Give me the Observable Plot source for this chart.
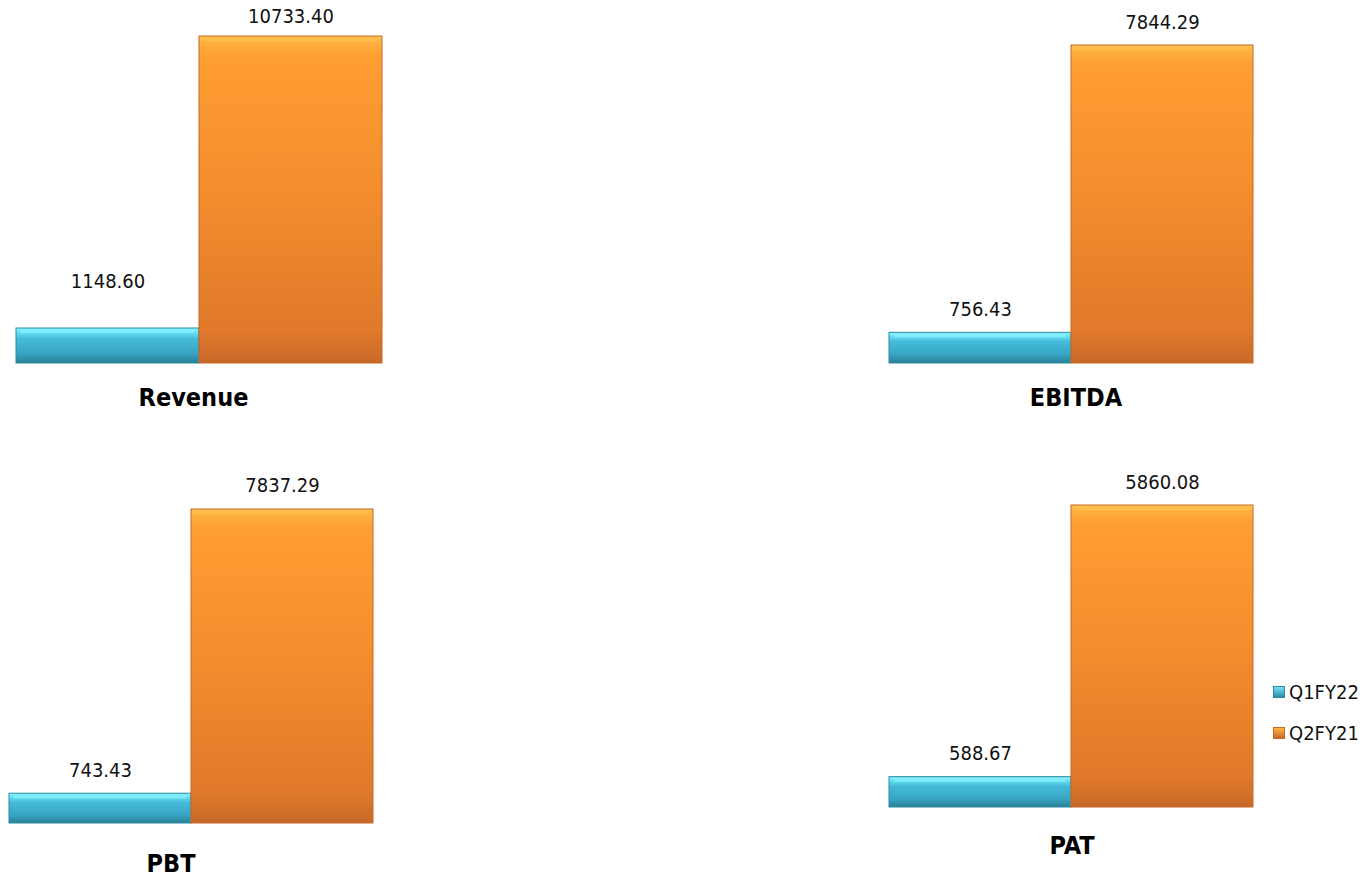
<!DOCTYPE html>
<html>
<head>
<meta charset="utf-8">
<script src="https://cdn.jsdelivr.net/npm/d3@7"></script>
<script src="https://cdn.jsdelivr.net/npm/@observablehq/plot@0.6"></script>
<style>
  html, body { margin: 0; padding: 0; background: #ffffff; }
  #root { position: relative; width: 1369px; height: 880px; overflow: hidden;
          font-family: "DejaVu Sans Condensed", "DejaVu Sans", sans-serif; font-stretch: condensed; }
  .panel { position: absolute; }
  .panel svg { overflow: visible; }
  .legend { position: absolute; left: 1273px; top: 676px; font-size: 20px; color: #111; }
  .legend .row { display: flex; align-items: center; height: 32px; margin-bottom: 9px; }
  .legend .sw { width: 12px; height: 12px; margin-right: 4px; box-sizing: border-box; }
</style>
</head>
<body>
<div id="root">
  <svg width="0" height="0" style="position:absolute">
    <defs>
      <linearGradient id="gCyan" x1="0" y1="0" x2="0" y2="1">
        <stop offset="0" stop-color="#8AF4FF"/>
        <stop offset="0.12" stop-color="#6BE0F5"/>
        <stop offset="0.3" stop-color="#45BCDA"/>
        <stop offset="0.7" stop-color="#38A7C5"/>
        <stop offset="1" stop-color="#2B8098"/>
      </linearGradient>
      <linearGradient id="gOrange" x1="0" y1="0" x2="0" y2="1">
        <stop offset="0" stop-color="#FFC552"/>
        <stop offset="0.02" stop-color="#FFB040"/>
        <stop offset="0.06" stop-color="#FF9E33"/>
        <stop offset="0.45" stop-color="#F48E2E"/>
        <stop offset="0.9" stop-color="#E0792A"/>
        <stop offset="1" stop-color="#C8682A"/>
      </linearGradient>
    </defs>
  </svg>
</div>
<script>
// ---- data ----
const categories = ["Revenue", "EBITDA", "PBT", "PAT"];
const series = ["Q1FY22", "Q2FY21"];
const q1fy22 = [1148.60, 756.43, 743.43, 588.67];
const q2fy21 = [10733.40, 7844.29, 7837.29, 5860.08];

const fills = {Q1FY22: "url(#gCyan)", Q2FY21: "url(#gOrange)"};
const strokes = {Q1FY22: "#2C8AA3", Q2FY21: "#C56A24"};
const highlights = {Q1FY22: "#86F2FF", Q2FY21: "#FFC24E"};
const swatch = {Q1FY22: "linear-gradient(#6FE3F7, #2E8CA6)", Q2FY21: "linear-gradient(#FFB640, #C8682A)"};

// ---- layout (positions only) ----
const layout = [
  {left: 0,   top: 0,   width: 420, height: 430, ml: 16, mr: 38, mt: 36, mb: 67, tdx: -6, tdy: 42, ldy: [-47, -20]},
  {left: 860, top: 0,   width: 420, height: 430, ml: 28, mr: 27, mt: 45, mb: 67, tdx: 5,  tdy: 42, ldy: [-23, -23]},
  {left: 0,   top: 440, width: 420, height: 440, ml: 8,  mr: 47, mt: 69, mb: 57, tdx: -20, tdy: 48, ldy: [-23, -24]},
  {left: 860, top: 440, width: 420, height: 440, ml: 28, mr: 27, mt: 65, mb: 73, tdx: 1,  tdy: 46, ldy: [-24, -23]}
];

const root = document.getElementById("root");

categories.forEach((cat, i) => {
  const L = layout[i];
  const rows = series.map((s, j) => ({series: s, value: j === 0 ? q1fy22[i] : q2fy21[i]}));
  const maxV = d3.max(rows, d => d.value);
  const chart = Plot.plot({
    width: L.width,
    height: L.height,
    marginLeft: L.ml, marginRight: L.mr, marginTop: L.mt, marginBottom: L.mb,
    style: {background: "transparent", fontFamily: "\"DejaVu Sans Condensed\", \"DejaVu Sans\", sans-serif", overflow: "visible"},
    x: {domain: series, padding: 0, axis: null},
    y: {domain: [0, maxV], axis: null},
    marks: [
      Plot.barY(rows, {
        x: "series", y: "value",
        fill: d => fills[d.series],
        stroke: d => strokes[d.series],
        strokeWidth: 1,
        style: {filter: "drop-shadow(1px 2px 2px rgba(0,0,0,0.35))"}
      }),
      Plot.tickY(rows, {
        x: "series", y: "value", dy: 3, inset: 5,
        stroke: d => highlights[d.series], strokeWidth: 3, strokeOpacity: 0.75
      }),
      Plot.tickY(rows, {
        x: "series", y: 0, dy: -2, inset: 4,
        stroke: d => strokes[d.series], strokeWidth: 3, strokeOpacity: 0.5
      }),
      ...rows.map((r, j) => Plot.text([r], {
        x: "series", y: "value", dy: L.ldy[j],
        text: d => d.value.toFixed(2),
        fontSize: 20, fill: "#111"
      })),
      Plot.text([cat], {
        frameAnchor: "bottom", dx: L.tdx, dy: L.tdy,
        text: d => d, fontSize: 25, fontWeight: "bold", fill: "#000"
      })
    ]
  });
  const div = document.createElement("div");
  div.className = "panel";
  div.style.left = L.left + "px";
  div.style.top = L.top + "px";
  div.appendChild(chart);
  root.appendChild(div);
});

// legend
const legend = document.createElement("div");
legend.className = "legend";
series.forEach(s => {
  const row = document.createElement("div");
  row.className = "row";
  const sw = document.createElement("div");
  sw.className = "sw";
  sw.style.background = swatch[s];
  sw.style.border = "1px solid " + strokes[s];
  const t = document.createElement("span");
  t.textContent = s;
  row.appendChild(sw);
  row.appendChild(t);
  legend.appendChild(row);
});
root.appendChild(legend);
</script>
</body>
</html>
